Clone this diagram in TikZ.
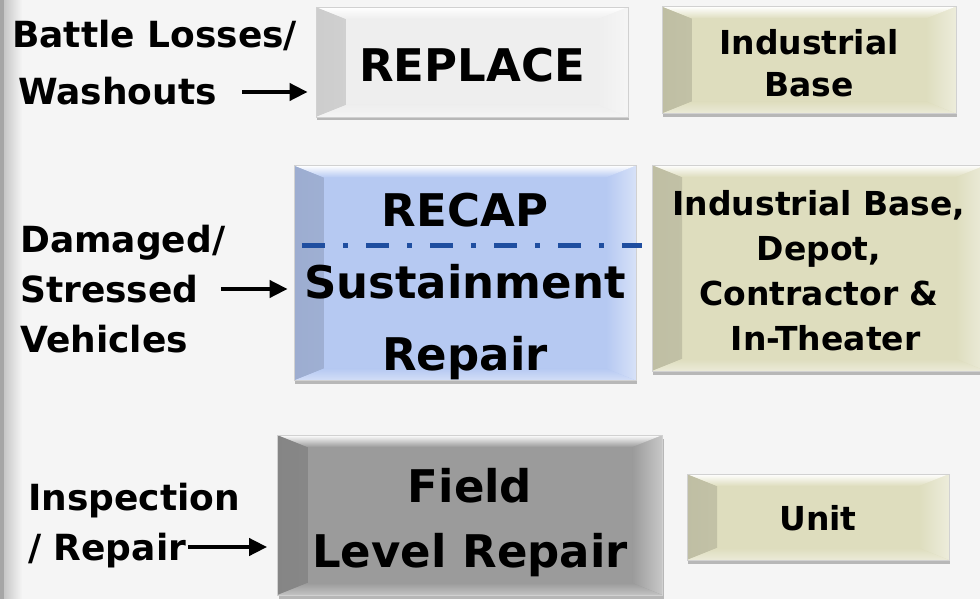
\documentclass[tikz,border=0pt]{standalone}
\usepackage{fontspec}
\setmainfont{DejaVu Sans}
\usetikzlibrary{arrows.meta,shadows}

\definecolor{bgc}{RGB}{245,245,245}
\definecolor{repc}{RGB}{238,238,238}
\definecolor{khaki}{RGB}{222,221,190}
\definecolor{recapc}{RGB}{182,201,242}
\definecolor{fieldc}{RGB}{155,155,155}
\definecolor{splitc}{RGB}{31,78,160}

\tikzset{bevel/.style={path picture={
  \shade[left color=#1!86!black,right color=#1] (path picture bounding box.north west) -- ([shift={(30pt,-12pt)}]path picture bounding box.north west)
    -- ([shift={(30pt,12pt)}]path picture bounding box.south west) -- (path picture bounding box.south west) -- cycle;
  \shade[left color=#1,right color=#1!55!white] (path picture bounding box.north east) -- ([shift={(-30pt,-12pt)}]path picture bounding box.north east)
    -- ([shift={(-30pt,12pt)}]path picture bounding box.south east) -- (path picture bounding box.south east) -- cycle;
  \shade[top color=white,bottom color=#1] (path picture bounding box.north west) -- (path picture bounding box.north east)
    -- ([shift={(-30pt,-12pt)}]path picture bounding box.north east) -- ([shift={(30pt,-12pt)}]path picture bounding box.north west) -- cycle;
  \shade[top color=#1,bottom color=#1!60!white] (path picture bounding box.south west) -- ([shift={(30pt,12pt)}]path picture bounding box.south west)
    -- ([shift={(-30pt,12pt)}]path picture bounding box.south east) -- (path picture bounding box.south east) -- cycle;
}},
box/.style={fill=#1,bevel=#1,draw=black!18,line width=.8pt,inner sep=0pt,align=center,text depth=0pt,
  drop shadow={shadow xshift=1pt,shadow yshift=-3.5pt,fill=black,opacity=.25}}}

\begin{document}
\begin{tikzpicture}[x=1pt,y=-1pt]
\tikzstyle{big} = [font=\bfseries\fontsize{45}{72}\selectfont]
\tikzstyle{where} = [box=khaki,font=\bfseries\fontsize{33}{45}\selectfont]
\tikzstyle{lbl} = [anchor=base west,inner sep=0pt,font=\bfseries\fontsize{36}{50}\selectfont,text height=26pt,text depth=0pt]
\tikzstyle{arr} = [line width=4pt,-{Triangle[length=18pt,width=17pt]}]
\tikzstyle{split} = [line width=5pt,splitc,dash pattern=on 23pt off 18pt on 5pt off 18pt]

% background and left edge
\fill[bgc] (0,0) rectangle (980,599);
\shade[left color=black!22,right color=bgc] (4,0) rectangle (22,599);
\fill[black!35] (0,0) rectangle (4,599);
\useasboundingbox (0,0) rectangle (980,599);

% boxes
\node[box=repc,big,text height=40pt,minimum width=312pt,minimum height=110pt] (rep) at (472,62) {REPLACE};
\node[box=recapc,big,text height=194pt,minimum width=342pt,minimum height=215pt] (rec) at (465,273) {RECAP\\Sustainment\\Repair};
\node[box=fieldc,big,font=\bfseries\fontsize{45}{65}\selectfont,text height=104pt,minimum width=385pt,minimum height=160pt] (fld) at (470,515) {Field\\Level Repair};

\node[where,font=\bfseries\fontsize{33}{42}\selectfont,text height=74pt,minimum width=294pt,minimum height=107pt] (ib1) at (809,60) {Industrial\\Base};
\node[where,text height=164pt,minimum width=334pt,minimum height=206pt] (ib2) at (819,268) {Industrial Base,\\Depot,\\Contractor \&\\\hspace{.4em}In-Theater};
\node[where,text height=26pt,minimum width=262pt,minimum height=86pt] (unit) at (818,517) {Unit};

% recap / sustainment divider
\coordinate (sl) at (302,245);
\coordinate (sr) at (642,245);
\draw[split] (sl) -- (sr);

% inputs
\node[lbl] (bl1) at (12,48) {Battle Losses/};
\node[lbl] (bl2) at (18,105) {Washouts};
\node[lbl] (ds1) at (20,252) {Damaged/};
\node[lbl] (ds2) at (20,302) {Stressed};
\node[lbl] (ds3) at (20,352) {Vehicles};
\node[lbl] (ir1) at (28,510) {Inspection};
\node[lbl] (ir2) at (28,560) {/ Repair};

\draw[arr,shorten <=25pt,shorten >=8pt] (bl2.east) -- (bl2.east -| rep.west);
\draw[arr,shorten <=22pt,shorten >=6pt] (ds2.east) -- (ds2.east -| rec.west);
\draw[arr,shorten <=2pt,shorten >=10pt] (ir2.east) -- (ir2.east -| fld.west);
\end{tikzpicture}
\end{document}
